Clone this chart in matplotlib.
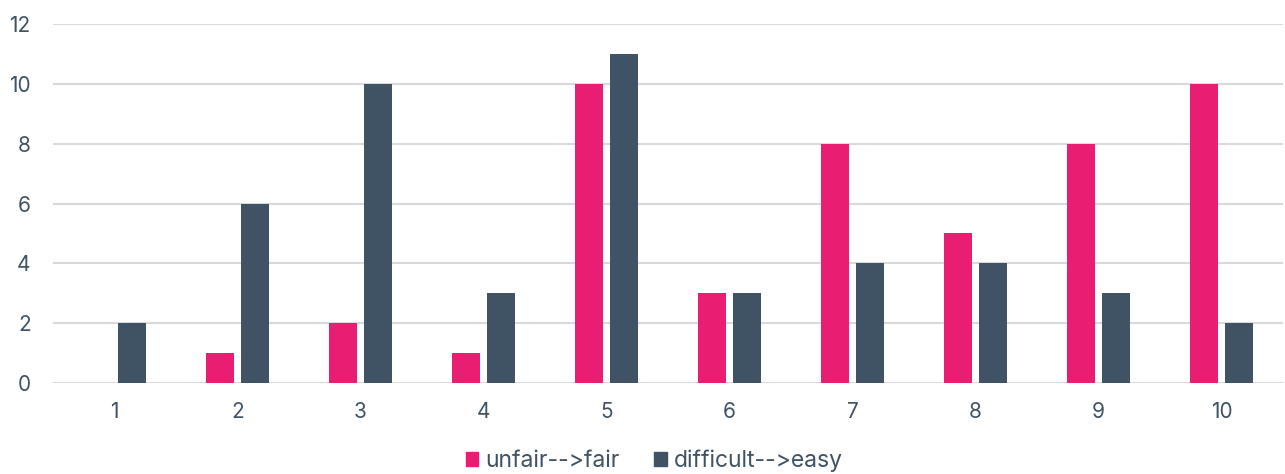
import matplotlib.pyplot as plt
import numpy as np
from matplotlib.patches import Patch

categories = ["1", "2", "3", "4", "5", "6", "7", "8", "9", "10"]
unfair_fair = [0, 1, 2, 1, 10, 3, 8, 5, 8, 10]
difficult_easy = [2, 6, 10, 3, 11, 3, 4, 4, 3, 2]

PINK = "#E91E73"
SLATE = "#3F5365"
TEXT = "#3F5365"
GRID = "#D9D9D9"

plt.rcParams['font.family'] = ['Inter', 'DejaVu Sans']

fig = plt.figure(figsize=(12.85, 4.74), dpi=100)
ax = fig.add_axes([0.0412, 0.192, 0.9572, 0.757])

x = np.arange(1, len(categories) + 1)
width = 0.228
offset = 0.142
ax.bar(x - offset, unfair_fair, width, color=PINK, zorder=3)
ax.bar(x + offset, difficult_easy, width, color=SLATE, zorder=3)

ax.set_xlim(0.5, len(categories) + 0.5)
ax.set_ylim(0, 12)
ax.set_yticks(range(0, 13, 2))
ax.set_xticks(x)
ax.set_xticklabels(categories)
ax.tick_params(axis='both', length=0, labelsize=15, labelcolor=TEXT)
ax.tick_params(axis='x', pad=14)
ax.tick_params(axis='y', pad=16)

ax.grid(axis='y', color=GRID, linewidth=1.5, zorder=0)
for side in ['top', 'right', 'left', 'bottom']:
    ax.spines[side].set_visible(False)

handles = [Patch(color=PINK, label="unfair-->fair"),
           Patch(color=SLATE, label="difficult-->easy")]
fig.legend(handles=handles, loc='lower center', bbox_to_anchor=(0.509, -0.04), ncol=2,
           frameon=False, fontsize=16.5, labelcolor=TEXT, handlelength=0.55,
           handleheight=0.55, handletextpad=0.3, columnspacing=1.5)

fig.savefig("out.png", dpi=100)
